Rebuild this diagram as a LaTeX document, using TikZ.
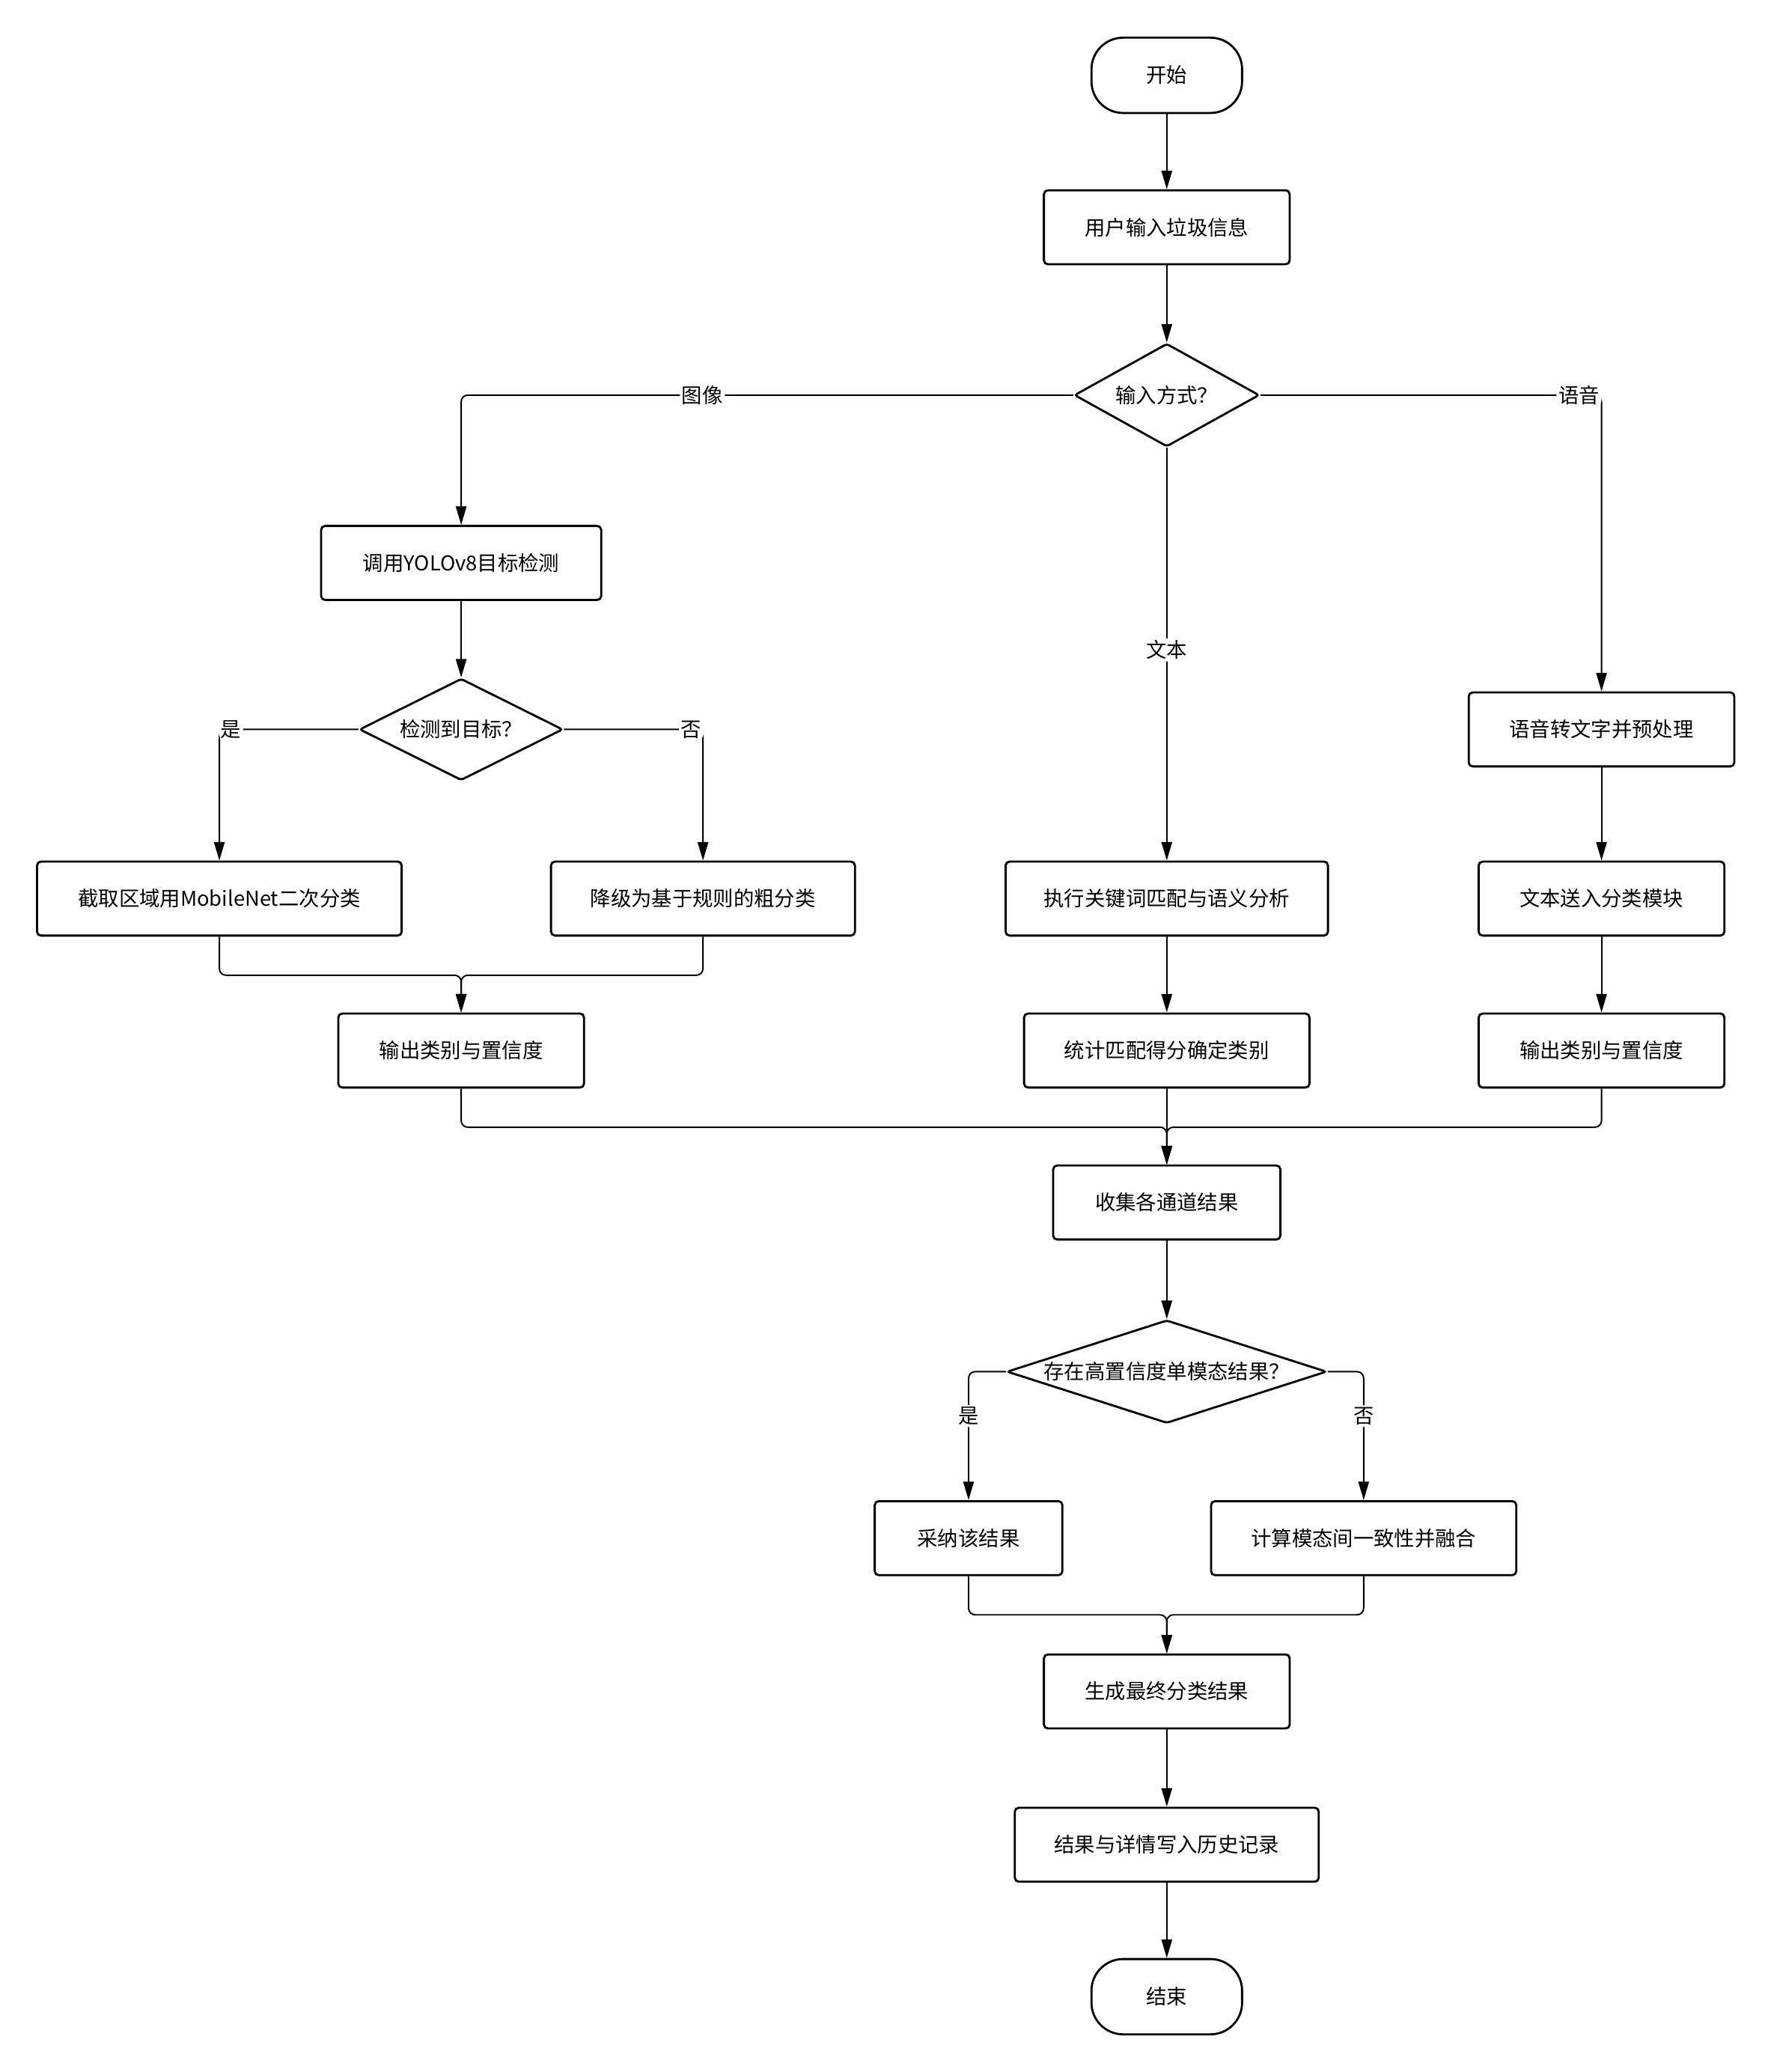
\documentclass[tikz,border=0pt]{standalone}
\usepackage{fontspec}
\newfontfamily\cjk{Noto Sans CJK SC}
\usetikzlibrary{shapes.geometric,arrows.meta}
\begin{document}
\begin{tikzpicture}[x=1pt,y=-1pt,
  every node/.style={font=\cjk\fontsize{15.5}{18}\selectfont},
  proc/.style={draw,line width=1.6pt,rounded corners=3pt,minimum height=56pt,inner sep=0pt},
  term/.style={draw,line width=1.6pt,rounded corners=24pt,minimum width=114pt,minimum height=57pt,inner sep=0pt},
  dec/.style={draw,diamond,line width=1.6pt,inner sep=0pt,rounded corners=2pt},
  conn/.style={line width=1.1pt,-{Triangle[length=14pt,width=8pt]},rounded corners=5pt},
  lab/.style={fill=white,inner sep=1.5pt}]
\useasboundingbox[fill=white] (0,0) rectangle (1340,1568);
% nodes
\node[term] (start) at (883,57) {开始};
\node[proc,minimum width=186pt] (input) at (883,172) {用户输入垃圾信息};
\node[dec,minimum width=140pt,minimum height=78pt,shape aspect=1.8] (mode) at (883,299) {输入方式？};
\node[proc,minimum width=212pt] (yolo) at (349,426) {调用YOLOv8目标检测};
\node[dec,minimum width=154pt,minimum height=77pt,shape aspect=2] (det) at (349,552) {检测到目标？};
\node[proc,minimum width=276pt] (crop) at (166,680) {截取区域用MobileNet二次分类};
\node[proc,minimum width=230pt] (rule) at (532,680) {降级为基于规则的粗分类};
\node[proc,minimum width=186pt] (outL) at (349,795) {输出类别与置信度};
\node[proc,minimum width=244pt] (kw) at (883,680) {执行关键词匹配与语义分析};
\node[proc,minimum width=216pt] (stat) at (883,795) {统计匹配得分确定类别};
\node[proc,minimum width=201pt] (asr) at (1212,552) {语音转文字并预处理};
\node[proc,minimum width=186pt] (txt) at (1212,680) {文本送入分类模块};
\node[proc,minimum width=186pt] (outR) at (1212,795) {输出类别与置信度};
\node[proc,minimum width=172pt] (collect) at (883,910) {收集各通道结果};
\node[dec,minimum width=242pt,minimum height=78pt,shape aspect=3.1] (high) at (883,1038) {存在高置信度单模态结果？};
\node[proc,minimum width=142pt] (adopt) at (733,1164) {采纳该结果};
\node[proc,minimum width=231pt] (fuse) at (1032,1164) {计算模态间一致性并融合};
\node[proc,minimum width=186pt] (final) at (883,1280) {生成最终分类结果};
\node[proc,minimum width=230pt] (hist) at (883,1396) {结果与详情写入历史记录};
\node[term] (end) at (883,1511) {结束};
\coordinate (j1) at (349,738);
\coordinate (j2) at (883,853);
\coordinate (j3) at (883,1222);
% connectors
\draw[conn] (start) -- (input);
\draw[conn] (input) -- (mode);
\draw[conn] (mode.west) -| node[lab,pos=0.303] {图像} (yolo.north);
\draw[conn] (mode.east) -| node[lab,pos=0.467] {语音} (asr.north);
\draw[conn] (mode.south) -- node[lab,pos=0.49] {文本} (kw.north);
\draw[conn] (yolo) -- (det);
\draw[conn] (det.west) -| node[lab,pos=0.458] {是} (crop.north);
\draw[conn] (det.east) -| node[lab,pos=0.458] {否} (rule.north);
\draw[conn] (crop.south) |- (j1) -- (outL.north);
\draw[conn] (rule.south) |- (j1) -- (outL.north);
\draw[conn] (kw) -- (stat);
\draw[conn] (asr) -- (txt);
\draw[conn] (txt) -- (outR);
\draw[conn] (outL.south) |- (j2) -- (collect.north);
\draw[conn] (stat.south) -- (collect.north);
\draw[conn] (outR.south) |- (j2) -- (collect.north);
\draw[conn] (collect) -- (high);
\draw[conn] (high.west) -| node[lab,pos=0.673] {是} (adopt.north);
\draw[conn] (high.east) -| node[lab,pos=0.673] {否} (fuse.north);
\draw[conn] (adopt.south) |- (j3) -- (final.north);
\draw[conn] (fuse.south) |- (j3) -- (final.north);
\draw[conn] (final) -- (hist);
\draw[conn] (hist) -- (end);
\end{tikzpicture}
\end{document}
